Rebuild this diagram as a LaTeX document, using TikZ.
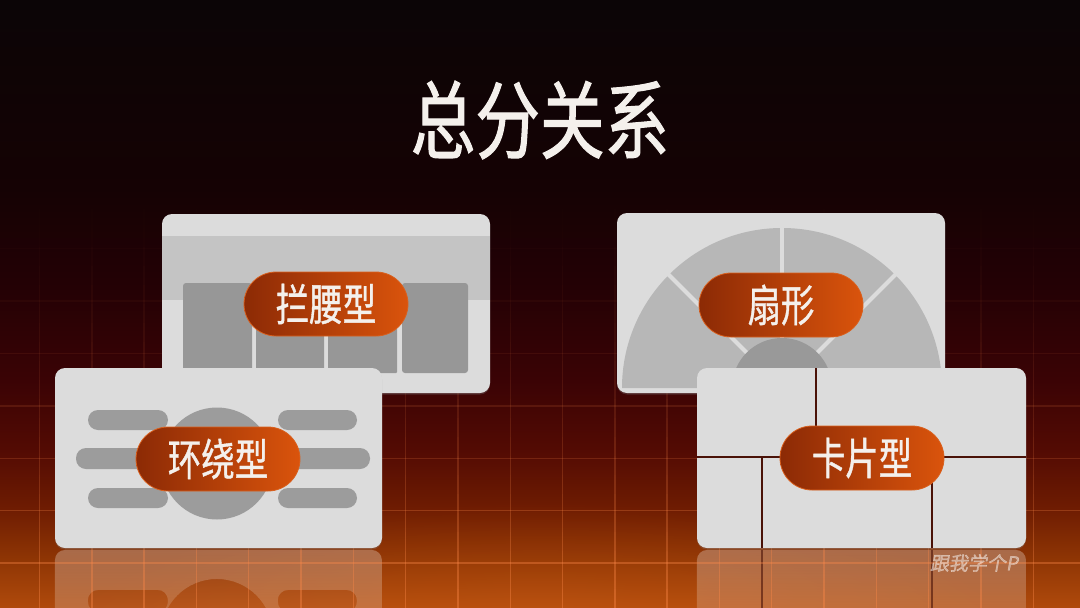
\documentclass[tikz,border=0pt]{standalone}
\usepackage{fontspec}
\newfontfamily\cjkt[FakeStretch=0.76,FakeBold=1.2]{Noto Sans CJK SC}
\newfontfamily\cjkp[FakeStretch=0.76,FakeBold=0.9]{Noto Sans CJK SC}
\newfontfamily\cjkw[FakeSlant=0.18,FakeBold=1.5]{Noto Sans CJK SC}
\usetikzlibrary{fadings,shadows}
\definecolor{cardbg}{HTML}{DCDCDC}
\definecolor{bandc}{HTML}{C4C4C4}
\definecolor{darkc}{HTML}{979797}
\definecolor{ringc}{HTML}{B7B7B7}
\definecolor{innerc}{HTML}{999999}
\definecolor{barc}{HTML}{9C9C9C}
\definecolor{sepc}{HTML}{4A1208}
\definecolor{pillL}{HTML}{8C2A05}
\definecolor{pillR}{HTML}{DA540C}
\definecolor{pillE}{HTML}{D9601E}
\definecolor{titlec}{HTML}{F4F0EC}
\definecolor{gridc}{HTML}{FF8A4A}
\definecolor{glowc}{HTML}{E06A1A}
\definecolor{bgA}{HTML}{B04A0C}
\definecolor{bgB}{HTML}{8E3504}
\definecolor{bgC}{HTML}{6E1C02}
\definecolor{bgD}{HTML}{520A03}
\definecolor{bgE}{HTML}{3A0305}
\definecolor{bgF}{HTML}{240105}
\definecolor{bgG}{HTML}{150204}
\definecolor{bgH}{HTML}{0B0506}
\pgfdeclareverticalshading{bgshade}{100bp}{color(0bp)=(bgA); color(25bp)=(bgA); color(29.11bp)=(bgB); color(33.22bp)=(bgC); color(38.16bp)=(bgD); color(43.91bp)=(bgE); color(51.32bp)=(bgF); color(59.54bp)=(bgG); color(75bp)=(bgH); color(100bp)=(bgH)}
\tikzfading[name=reflfade, top color=transparent!72, bottom color=transparent!92]
\tikzfading[name=glowfade, inner color=transparent!0, outer color=transparent!100]
\tikzset{
  card/.style={fill=cardbg, rounded corners=10pt, drop shadow={shadow xshift=0pt, shadow yshift=-1.5pt, opacity=0.3}},
  pill/.style={rounded corners=32pt, minimum width=164pt, minimum height=64pt, inner sep=0pt,
    left color=pillL, right color=pillR, draw=pillE, line width=0.8pt, text=titlec,
    font=\cjkp\fontsize{44}{44}\selectfont},
  sepline/.style={draw=sepc, line width=2.2pt},
  bar/.style={fill=barc, rounded corners=10pt}
}
\begin{document}
\begin{tikzpicture}[x=1pt,y=-1pt]
\useasboundingbox (0,0) rectangle (1080,608);
\clip (0,0) rectangle (1080,608);
% background
\shade[shading=bgshade] (0,0) rectangle (1080,608);
\fill[glowc, opacity=0.35, path fading=glowfade] (540,670) ellipse (520 and 170);
% reflections
\fill[white, path fading=reflfade, rounded corners=10pt, even odd rule]
  (55,550) rectangle (382,680)
  (88,590) rectangle (168,612) (278,590) rectangle (357,612)
  (217,635) circle (56);
\fill[white, opacity=0.06, rounded corners=10pt] (88,590) rectangle (168,612) (278,590) rectangle (357,612);
\fill[white, opacity=0.06] (217,635) circle (56);
\fill[white, path fading=reflfade, rounded corners=10pt] (697,550) rectangle (1026,680);
\draw[sepline, opacity=0.6] (762,550) -- (762,608) (932,550) -- (932,608);
% grid (vertical lines fade in towards the bottom)
\foreach \j in {0,...,21}{
  \pgfmathsetmacro\ya{190+19*\j}
  \pgfmathsetmacro\yb{\ya+19}
  \pgfmathsetmacro\op{0.4*((\ya+9.5-180)/428)^1.7}
  \draw[gridc, line width=1.4pt, opacity=\op]
    \foreach \i in {0,...,19}{ (39.5+52.3*\i,\ya) -- (39.5+52.3*\i,\yb) };
}
\foreach \yy/\op in {563/0.36, 510.6/0.27, 458.2/0.19, 405.8/0.13, 353.4/0.08, 301/0.04, 248.6/0.02}
  \draw[gridc, line width=1.4pt, opacity=\op] (0,\yy) -- (1080,\yy);
% title
\node[font=\cjkt\fontsize{85}{85}\selectfont, text=titlec, inner sep=0pt] (title) at (540,120) {总分关系};
% card 1: 拦腰型
\path[card] (162,214) rectangle (490,393);
\begin{scope}
  \clip[rounded corners=10pt] (162,214) rectangle (490,393);
  \fill[bandc] (162,236) rectangle (490,300);
  \fill[darkc, rounded corners=3pt] (183,283) rectangle (252,373);
  \fill[darkc, rounded corners=1pt] (256,283) rectangle (324,373);
  \fill[darkc, rounded corners=1pt] (328,283) rectangle (397,373);
  \fill[darkc, rounded corners=3pt] (402,283) rectangle (468,373);
\end{scope}
\node[pill] (p1) at (326,304) {拦腰型};
% card 3: 扇形
\path[card] (617,213) rectangle (945,393);
\fill[ringc] (622,388) arc[start angle=180, end angle=360, radius=160] -- cycle;
\foreach \a in {225,270,315}
  \draw[cardbg, line width=4pt] (782,388) -- ++(\a:166);
\fill[innerc] (732,388) arc[start angle=180, end angle=360, radius=50] -- cycle;
\node[pill] (p3) at (781,305) {扇形};
% card 2: 环绕型
\path[card] (55,368) rectangle (382,548);
\fill[bar] (88,410) rectangle (168,430);
\fill[bar] (76,448) rectangle (205,469);
\fill[bar] (88,488) rectangle (168,508);
\fill[bar] (278,410) rectangle (357,430);
\fill[bar] (235,448) rectangle (370,469);
\fill[bar] (278,488) rectangle (357,508);
\fill[barc] (217,463.5) circle (56);
\node[pill] (p2) at (218,459) {环绕型};
% card 4: 卡片型
\path[card] (697,368) rectangle (1026,548);
\draw[sepline] (816,368) -- (816,457);
\draw[sepline] (697,457) -- (1026,457);
\draw[sepline] (762,457) -- (762,548);
\draw[sepline] (932,457) -- (932,548);
\node[pill] (p4) at (862,458) {卡片型};
% watermark
\node[font=\cjkw\fontsize{19}{19}\selectfont, text=white, opacity=0.45, inner sep=0pt] (wm) at (974,563) {跟我学个P};
\end{tikzpicture}
\end{document}
